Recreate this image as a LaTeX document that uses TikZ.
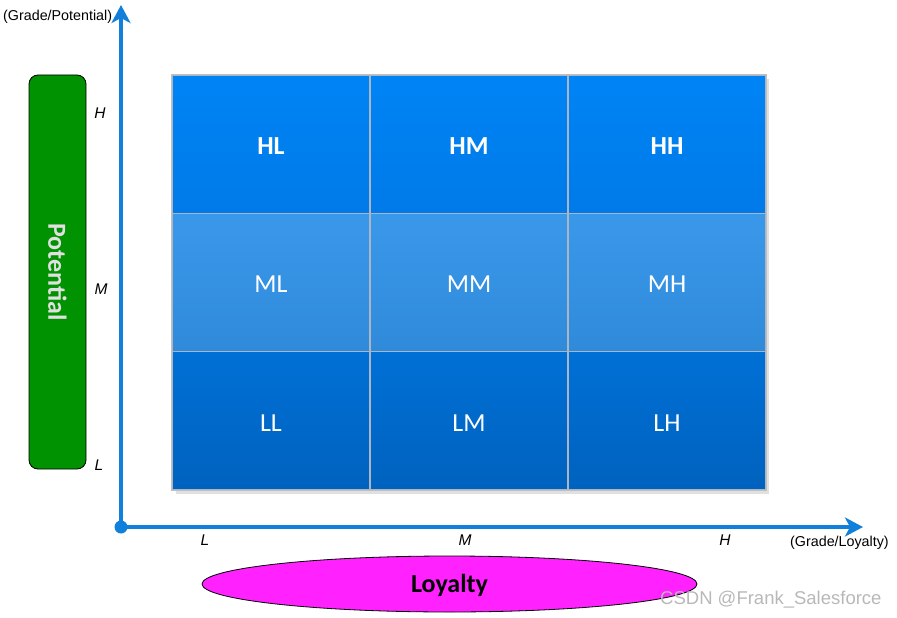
\documentclass[tikz,border=0pt]{standalone}
\usepackage{fontspec}
\setmainfont{Liberation Sans}
\newfontfamily\cellfont{Carlito}
\usetikzlibrary{arrows.meta}
\definecolor{axisblue}{RGB}{16,128,218}
\definecolor{toptop}{RGB}{0,132,245}
\definecolor{topbot}{RGB}{0,122,232}
\definecolor{midtop}{RGB}{58,152,234}
\definecolor{midbot}{RGB}{48,138,218}
\definecolor{lowtop}{RGB}{0,112,214}
\definecolor{lowbot}{RGB}{0,98,190}
\definecolor{cellline}{RGB}{170,182,198}
\definecolor{potgreen}{RGB}{0,146,0}
\definecolor{loymag}{RGB}{255,34,255}
\definecolor{wmgrey}{RGB}{184,184,184}
\tikzset{
  cell/.style={rectangle, draw=cellline, line width=1.3pt, minimum width=198pt,
    minimum height=138.3pt, inner sep=0pt},
  hrow/.style={cell, top color=toptop, bottom color=topbot},
  mrow/.style={cell, top color=midtop, bottom color=midbot},
  lrow/.style={cell, top color=lowtop, bottom color=lowbot},
  celltext/.style={text=white, inner sep=0pt, font=\cellfont\fontsize{26}{30}\selectfont},
  boldtext/.style={celltext, font=\cellfont\bfseries\fontsize{26}{30}\selectfont},
  axis/.style={draw=axisblue, line width=4pt, -{Stealth[width=19pt,length=18pt,inset=5pt]}},
  tick/.style={font=\itshape\fontsize{15.5}{17}\selectfont, inner sep=0pt},
  axlabel/.style={font=\fontsize{14.3}{16}\selectfont, inner sep=0pt},
}
\begin{document}
\begin{tikzpicture}[x=1pt,y=-1pt]
\useasboundingbox (0,0) rectangle (897,618);
% grid shadow
\fill[black!35, opacity=0.35] (176,79) rectangle (769,494);
% cells
\node[hrow] (hl) at (271,144.2) {};
\node[hrow] (hm) at (469,144.2) {};
\node[hrow] (hh) at (667,144.2) {};
\node[mrow] (ml) at (271,282.5) {};
\node[mrow] (mm) at (469,282.5) {};
\node[mrow] (mh) at (667,282.5) {};
\node[lrow] (ll) at (271,420.8) {};
\node[lrow] (lm) at (469,420.8) {};
\node[lrow] (lh) at (667,420.8) {};
\draw[black!25, line width=1.5pt] (hl.north west) rectangle (lh.south east);
\foreach \c/\t in {hl/HL,hm/HM,hh/HH}
  \node[boldtext] (\c-t) at ([yshift=-1.5pt]\c.center) {\t};
\foreach \c/\t in {ml/ML,mm/MM,mh/MH,ll/LL,lm/LM,lh/LH}
  \node[celltext] (\c-t) at ([yshift=-2pt]\c.center) {\t};
% axes
\coordinate (o) at (121,527);
\coordinate (ytip) at (121,5);
\coordinate (xtip) at (863,527);
\draw[axis] (o) -- (ytip);
\draw[axis] (o) -- (xtip);
\fill[axisblue] (o) circle (6.5pt);
% axis labels
\node[axlabel, anchor=west] (ylab) at (3,17) {(Grade/Potential)};
\node[axlabel, anchor=west] (xlab) at (790,543) {(Grade/Loyalty)};
\node[tick] (yh) at (100,113) {H};
\node[tick] (ym) at (101,289) {M};
\node[tick] (yl) at (99,465) {L};
\node[tick] (xl) at (205,540) {L};
\node[tick] (xm) at (465,540) {M};
\node[tick] (xh) at (725,540) {H};
% potential bar
\node[rectangle, rounded corners=9pt, draw=black, line width=0.8pt, fill=potgreen,
  minimum width=57pt, minimum height=394pt, inner sep=0pt] (pot) at (57.5,272) {};
\node[rotate=-90, text=black!12, font=\cellfont\bfseries\fontsize{26}{30}\selectfont] (pottext) at (pot.center) {Potential};
% loyalty ellipse
\draw[black, line width=0.8pt, fill=loymag] (449.5,584) ellipse (247.5pt and 28pt);
\node[font=\cellfont\bfseries\fontsize{26}{30}\selectfont] (loy) at (449.5,585.5) {Loyalty};
% watermark
\node[anchor=west, text=wmgrey, font=\fontsize{18.5}{20}\selectfont, inner sep=0pt] (wm) at (660,600) {CSDN @Frank\_Salesforce};
\end{tikzpicture}
\end{document}
